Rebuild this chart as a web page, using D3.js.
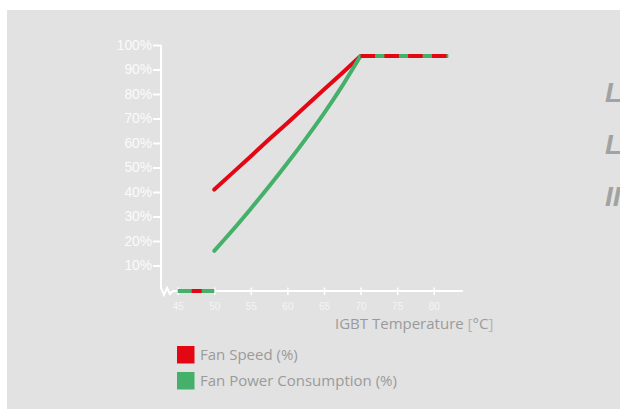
<!DOCTYPE html>
<html>
<head>
<meta charset="utf-8">
<script src="https://cdn.jsdelivr.net/npm/d3@7"></script>
<style>
  html, body { margin: 0; padding: 0; background: #fff; }
  svg { display: block; }
</style>
</head>
<body>
<div id="chart"></div>
<script>
// values
const temps = [50, 52.5, 55, 57.5, 60, 62.5, 65, 67.5, 70];
const fanSpeed = [41, 47.8, 54.6, 61.5, 68.2, 75, 81.8, 88.6, 95.5];
const fanPower = [16, 24.4, 33.2, 42.3, 51.8, 61.7, 72.1, 83.3, 95.5];
const flatTop = [[70, 95.5], [82, 95.5]];
const flatLow = [[45, 0], [50, 0]];
const xTicks = [45, 50, 55, 60, 65, 70, 75, 80];
const yTicks = [10, 20, 30, 40, 50, 60, 70, 80, 90, 100];
const legendItems = ["Fan Speed (%)", "Fan Power Consumption (%)"];
const sideWords = ["L", "L", "II"];

const width = 620, height = 409;
const red = "#e30613", green = "#45b06a";

const svg = d3.select("#chart").append("svg")
    .attr("width", width)
    .attr("height", height);

svg.append("rect")
    .attr("x", 7).attr("y", 10)
    .attr("width", width - 7).attr("height", height - 10)
    .attr("fill", "#e2e2e2");

const x = d3.scaleLinear().domain([45, 80]).range([177.7, 433.7]);
const y = d3.scaleLinear().domain([0, 100]).range([290, 45]);

// y axis
const yAxis = svg.append("g")
    .attr("transform", "translate(161,0)")
    .call(d3.axisLeft(y).tickValues(yTicks).tickFormat(d => d + "%").tickSize(8).tickPadding(1))
    .call(g => g.select(".domain").remove());
yAxis.selectAll("line").attr("stroke", "#fff").attr("stroke-width", 2);
yAxis.selectAll("text")
    .attr("fill", "#fbfbfb")
    .style("font", "13.8px 'Liberation Sans', Arial, sans-serif");

// x axis
const xAxis = svg.append("g")
    .attr("transform", `translate(0,${y(0) + 1})`)
    .call(d3.axisBottom(x).tickValues(xTicks).tickSize(4).tickPadding(8))
    .call(g => g.select(".domain").remove());
xAxis.selectAll("line").attr("y1", -3.5).attr("stroke", "#fff").attr("stroke-width", 1.5);
xAxis.selectAll("text")
    .attr("fill", "#f4f4f4")
    .style("font", "10px 'Liberation Sans', Arial, sans-serif");

// axis lines with the break
const y0 = y(0) + 1;
svg.append("path")
    .attr("d", `M161,${y(100)} V${y0 - 3} L164,${y0 + 4} L167,${y0 - 3} L170,${y0 + 3} L173,${y0} H${x(84)}`)
    .attr("fill", "none")
    .attr("stroke", "#fff")
    .attr("stroke-width", 2);

svg.append("text")
    .attr("x", 335).attr("y", 328.5)
    .attr("fill", "#9a9a9a")
    .style("font", "15px 'Open Sans', sans-serif")
    .call(t => {
        t.append("tspan").text("IGBT Temperature ");
        t.append("tspan").attr("fill", "#b4b4b4").text("[");
        t.append("tspan").text("°C");
        t.append("tspan").attr("fill", "#b4b4b4").text("]");
    });

const line = d3.line().x(d => x(d[0])).y(d => y(d[1]));
const curve = d3.line().x(d => x(d[0])).y(d => y(d[1])).curve(d3.curveCatmullRom);

svg.append("path")
    .datum(temps.map((t, i) => [t, fanSpeed[i]]))
    .attr("d", line)
    .attr("fill", "none").attr("stroke", red)
    .attr("stroke-width", 4).attr("stroke-linecap", "round");

svg.append("path")
    .datum(temps.map((t, i) => [t, fanPower[i]]))
    .attr("d", curve)
    .attr("fill", "none").attr("stroke", green)
    .attr("stroke-width", 4).attr("stroke-linecap", "round");

// flat segments: green underneath, red dashes on top
svg.append("path").datum(flatTop).attr("d", line)
    .attr("stroke", green).attr("stroke-width", 4).attr("fill", "none");
svg.append("path").datum(flatTop).attr("d", line)
    .attr("stroke", red).attr("stroke-width", 4).attr("fill", "none")
    .attr("stroke-dasharray", "14.5 9.3");

const lowLine = d3.line().x(d => x(d[0])).y(() => y0);
svg.append("path").datum(flatLow).attr("d", lowLine)
    .attr("stroke", green).attr("stroke-width", 4).attr("fill", "none");
svg.append("path").datum(flatLow).attr("d", lowLine)
    .attr("stroke", red).attr("stroke-width", 4).attr("fill", "none")
    .attr("stroke-dasharray", "0 14 10 40");

// legend
const legend = svg.append("g").attr("transform", "translate(177,346)");
legendItems.forEach((name, i) => {
    const g = legend.append("g").attr("transform", `translate(0,${i * 26})`);
    g.append("rect").attr("width", 17.5).attr("height", 17.5)
        .attr("fill", i === 0 ? red : green);
    g.append("text")
        .attr("x", 23).attr("y", 14)
        .attr("fill", "#9a9a9a")
        .style("font", "15px 'Open Sans', sans-serif")
        .text(name);
});

// clipped heading letters at the right edge
svg.selectAll("text.side")
    .data(sideWords)
    .join("text")
    .attr("class", "side")
    .attr("x", 605)
    .attr("y", (d, i) => 101.5 + i * 52)
    .attr("fill", "#a2a2a2")
    .style("font", "italic bold 28px 'Liberation Sans', Arial, sans-serif")
    .text(d => d);
</script>
</body>
</html>
